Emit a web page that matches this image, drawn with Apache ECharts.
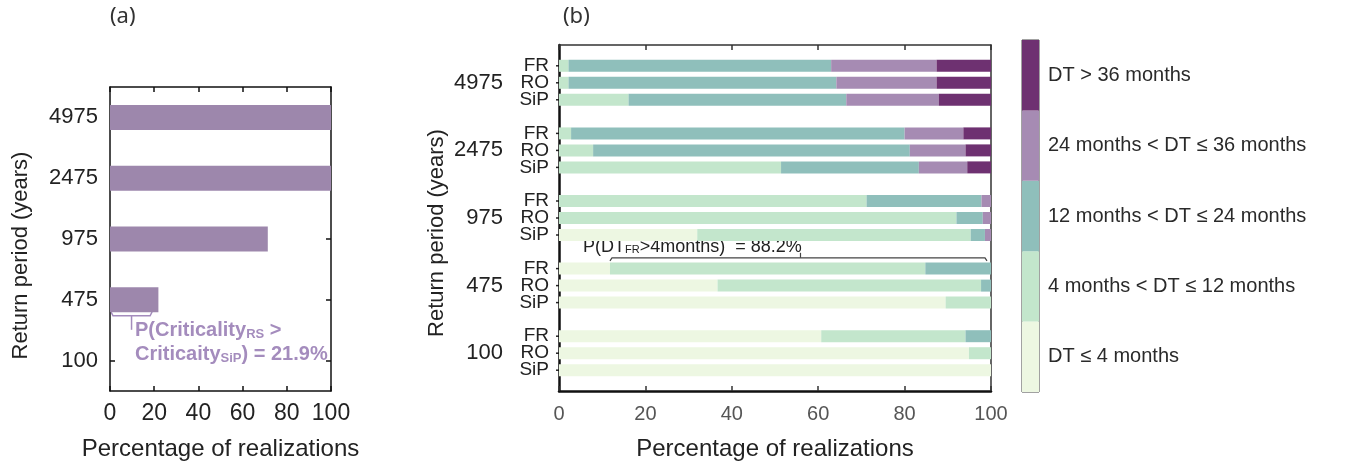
<!DOCTYPE html>
<html><head><meta charset="utf-8">
<script src="https://cdn.jsdelivr.net/npm/echarts@6/dist/echarts.min.js"></script>
<style>html,body{margin:0;padding:0;background:#fff}#c{width:1345px;height:466px}</style>
</head><body><div id="c"></div>
<script>
// ---------- data ----------
const returnPeriods = ['4975', '2475', '975', '475', '100'];
const criticalityPct = [100, 100, 71.4, 21.9, 0];          // panel (a)
const archetypes = ['FR', 'RO', 'SiP'];
const dtClasses = ['DT ≤ 4 months', '4 months < DT ≤ 12 months', '12 months < DT ≤ 24 months',
                   '24 months < DT ≤ 36 months', 'DT > 36 months'];
const dtColors = ['#edf7e2', '#c3e6cc', '#8fbfbb', '#a68bb3', '#6e3171'];
// shares (%) of each DT class, rows = return periods (4975..100), cols = dtClasses
const frShares = [
  [0, 2.2, 60.8, 24.4, 12.6],
  [0, 2.8, 77.2, 13.6, 6.4],
  [0, 71.2, 26.6, 2.2, 0],
  [11.8, 73.0, 15.2, 0, 0],
  [60.7, 33.4, 5.9, 0, 0]
];
const roShares = [
  [0, 2.2, 62.0, 23.2, 12.6],
  [0, 7.9, 73.3, 12.9, 5.9],
  [0, 92.0, 6.1, 1.9, 0],
  [36.7, 61.0, 2.3, 0, 0],
  [94.9, 5.1, 0, 0, 0]
];
const sipShares = [
  [0, 16.1, 50.4, 21.4, 12.1],
  [0, 51.4, 31.9, 11.2, 5.5],
  [32.0, 63.3, 3.3, 1.4, 0],
  [89.5, 10.5, 0, 0, 0],
  [100, 0, 0, 0, 0]
];
const xTicks = [0, 20, 40, 60, 80, 100];
const bracketA = [0, 19.5];      // annotation span in (a), %
const bracketB = [11.8, 100];    // annotation span in (b), %

// ---------- chart ----------
const FONT = '"Liberation Sans", Arial, sans-serif';
const chart = echarts.init(document.getElementById('c'));
const shares = { FR: frShares, RO: roShares, SiP: sipShares };
const BAR_W = 12, BAR_PITCH = 17;

const inTick = (c, w) => ({ show: true, inside: true, length: 5, lineStyle: { color: c, width: w } });
const line = (c, w) => ({ show: true, onZero: false, lineStyle: { color: c, width: w } });
const valX = (extra) => Object.assign({
  type: 'value', min: xTicks[0], max: xTicks[xTicks.length - 1], interval: 20,
  splitLine: { show: false }
}, extra);

const seriesB = [];
archetypes.forEach(a => {
  dtClasses.forEach((cls, k) => {
    seriesB.push({
      type: 'bar', name: cls, stack: a, xAxisIndex: 4, yAxisIndex: 4,
      barWidth: BAR_W, barGap: ((BAR_PITCH - BAR_W) / BAR_W * 100) + '%',
      data: shares[a].map(r => r[k]),
      itemStyle: { color: dtColors[k] },
      label: k === 0 ? {
        show: true, position: 'left', distance: 10, formatter: a,
        fontFamily: FONT, fontSize: 19, color: '#222'
      } : { show: false },
      silent: true
    });
  });
});

chart.setOption({
  animation: false,
  textStyle: { fontFamily: FONT },
  grid: [
    { left: 110, top: 87, width: 221, height: 309 },
    { left: 559, top: 45, width: 432, height: 348 },
    { left: 559, top: 49, width: 432, height: 338 },
    { left: 1022, top: 40, width: 17, height: 352 }
  ],
  xAxis: [
    valX({ gridIndex: 0, position: 'bottom',
      axisLine: line('#111', 1.5), axisTick: inTick('#111', 1.5),
      axisLabel: { fontSize: 23, color: '#222', margin: 11 },
      name: 'Percentage of realizations', nameLocation: 'middle', nameGap: 46,
      nameTextStyle: { fontSize: 24, color: '#222' } }),
    valX({ gridIndex: 0, position: 'top',
      axisLine: line('#111', 1.5), axisTick: inTick('#111', 1.5),
      axisLabel: { show: false } }),
    valX({ gridIndex: 1, position: 'bottom',
      axisLine: line('#111', 2.5), axisTick: inTick('#333', 1.5),
      axisLabel: { fontSize: 20, color: '#555', margin: 13 },
      name: 'Percentage of realizations', nameLocation: 'middle', nameGap: 46,
      nameTextStyle: { fontSize: 24, color: '#222' } }),
    valX({ gridIndex: 1, position: 'top',
      axisLine: line('#333', 1.5), axisTick: inTick('#333', 1.5),
      axisLabel: { show: false } }),
    valX({ gridIndex: 2, show: false }),
    { type: 'value', gridIndex: 3, min: 0, max: 1, show: false }
  ],
  yAxis: [
    { type: 'category', gridIndex: 0, inverse: true, data: returnPeriods, position: 'left',
      axisLine: line('#111', 1.5),
      axisTick: Object.assign(inTick('#111', 1.5), { alignWithLabel: true }),
      axisLabel: { fontSize: 22, color: '#222', margin: 12 },
      name: 'Return period (years)', nameLocation: 'middle', nameGap: 78,
      nameTextStyle: { fontSize: 22, color: '#222', padding: [0, 33, 0, 0] } },
    { type: 'category', gridIndex: 0, inverse: true, data: returnPeriods, position: 'right',
      axisLine: line('#111', 1.5),
      axisTick: Object.assign(inTick('#111', 1.5), { alignWithLabel: true }),
      axisLabel: { show: false } },
    { type: 'value', gridIndex: 1, min: 0, max: 1, position: 'left',
      axisLine: line('#111', 2.5),
      axisTick: { show: false }, axisLabel: { show: false }, splitLine: { show: false },
      name: 'Return period (years)', nameLocation: 'middle', nameGap: 111,
      nameTextStyle: { fontSize: 22, color: '#222', padding: [0, 30, 0, 0] } },
    { type: 'value', gridIndex: 1, min: 0, max: 1, position: 'right',
      axisLine: line('#333', 1.5),
      axisTick: { show: false }, axisLabel: { show: false }, splitLine: { show: false } },
    { type: 'category', gridIndex: 2, inverse: true, data: returnPeriods,
      axisLine: { show: false }, axisTick: { show: false },
      axisLabel: { fontSize: 22, color: '#222', margin: 56 } },
    { type: 'category', gridIndex: 3, data: dtClasses, position: 'right',
      axisLine: { show: false }, axisTick: { show: false },
      axisLabel: { fontSize: 20, color: '#2a2a2a', margin: 9 } }
  ],
  series: [
    { type: 'bar', xAxisIndex: 0, yAxisIndex: 0, data: criticalityPct, barWidth: 25,
      itemStyle: { color: '#9d87ac' }, silent: true },
    ...seriesB,
    { type: 'bar', xAxisIndex: 5, yAxisIndex: 5, barWidth: '100%', silent: true,
      data: dtClasses.map((c, i) => ({ value: 1, itemStyle: { color: dtColors[i] } })) }
  ]
});

// ---------- annotations (positioned through the axes) ----------
const pa = (x, y) => chart.convertToPixel({ xAxisIndex: 0, yAxisIndex: 0 }, [x, y]);
const pb = (x, y) => chart.convertToPixel({ xAxisIndex: 4, yAxisIndex: 4 }, [x, y]);
const a0 = pa(bracketA[0], 3), a1 = pa(bracketA[1], 3);
const ya = a0[1] + 16, xam = (a0[0] + a1[0]) / 2;
const b975 = pb(0, 2), b475 = pb(0, 3);
const ymid = (b975[1] + b475[1]) / 2;
const b0 = pb(bracketB[0], 3)[0], b1 = pb(bracketB[1], 3)[0];
const yb = ymid + 6, xbm = (b0 + b1) / 2;
const purple = '#a48cbd';

// row ticks on the left/right frame of (b), one per bar row
const rowTicks = [];
const xL = pb(0, 0)[0], xR = pb(100, 0)[0];
returnPeriods.forEach((rp, i) => {
  const yc = pb(0, i)[1];
  archetypes.forEach((a, j) => {
    const y = yc + (j - 1) * BAR_PITCH;
    rowTicks.push({ type: 'line', silent: true, shape: { x1: xL - 3, y1: y, x2: xL + 5, y2: y }, style: { stroke: '#222', lineWidth: 1.5 } });
    rowTicks.push({ type: 'line', silent: true, shape: { x1: xR - 4, y1: y, x2: xR, y2: y }, style: { stroke: '#222', lineWidth: 1.5 } });
  });
});

chart.setOption({
  graphic: [
    { type: 'text', left: 110, top: 6, style: { text: '(a)', font: '22px "Noto Sans", sans-serif', fill: '#333' } },
    { type: 'text', left: 563, top: 6, style: { text: '(b)', font: '22px "Noto Sans", sans-serif', fill: '#333' } },
    { type: 'polyline', silent: true, shape: { points: [[a0[0] + 1, ya - 4], [a0[0] + 3, ya], [a1[0] - 3, ya], [a1[0] - 1, ya - 4]] },
      style: { stroke: purple, lineWidth: 1.5, fill: null } },
    { type: 'line', silent: true, shape: { x1: xam, y1: ya, x2: xam, y2: ya + 14 }, style: { stroke: purple, lineWidth: 1.5 } },
    { type: 'text', x: a0[0] + 25, y: ya + 25, silent: true,
      style: { text: '{m|P(Criticality}{s|RS}{m| >}\n{m|Criticaity}{s|SiP}{m|) = 21.9%}',
        fill: purple, verticalAlign: 'middle',
        rich: { m: { fontFamily: FONT, fontWeight: 'bold', fontSize: 20, lineHeight: 24, verticalAlign: 'bottom', fill: purple },
                s: { fontFamily: FONT, fontWeight: 'bold', fontSize: 13, lineHeight: 13, verticalAlign: 'bottom', fill: purple } } } },
    { type: 'polyline', silent: true, shape: { points: [[b0, yb + 3], [b0 + 2, yb], [b1 - 6, yb], [b1 - 4, yb + 3]] },
      style: { stroke: '#444', lineWidth: 1.2, fill: null } },
    { type: 'line', silent: true, shape: { x1: xbm, y1: yb, x2: xbm, y2: yb - 5 }, style: { stroke: '#444', lineWidth: 1.2 } },
    { type: 'text', x: 583, y: ymid - 7, silent: true,
      style: { text: '{m|P(DT}{s|FR}{m|>4months)  = 88.2%}', verticalAlign: 'middle', fill: '#222',
        rich: { m: { fontFamily: FONT, fontSize: 18, lineHeight: 22, verticalAlign: 'bottom', fill: '#222' },
                s: { fontFamily: FONT, fontSize: 11, lineHeight: 11, verticalAlign: 'bottom', fill: '#222' } } } },
    { type: 'rect', silent: true, shape: { x: 1022, y: 40, width: 17, height: 352 },
      style: { fill: null, stroke: '#444', lineWidth: 1 } },
    ...rowTicks
  ]
});
</script></body></html>
